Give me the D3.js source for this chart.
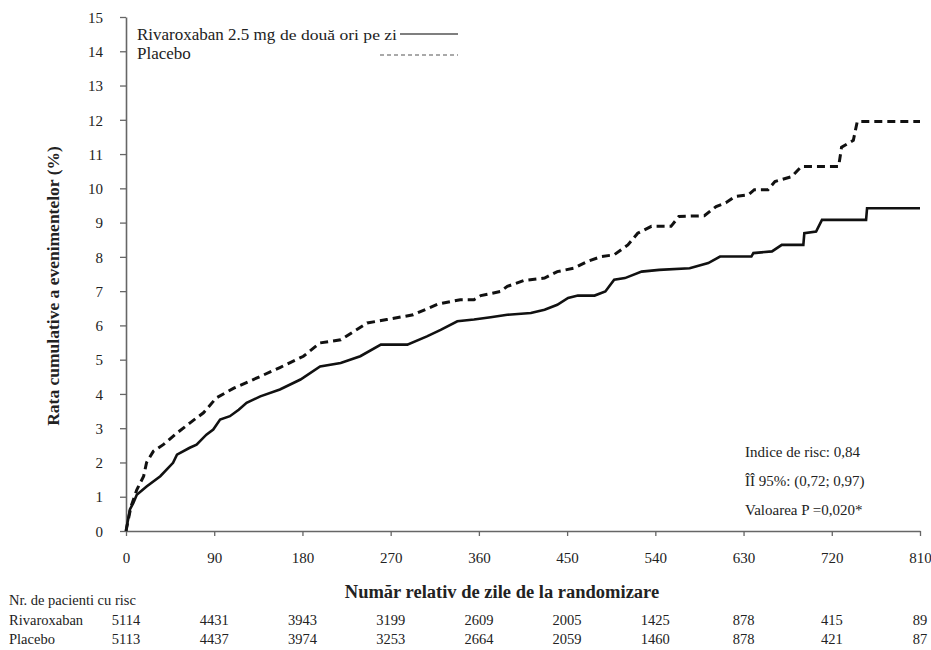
<!DOCTYPE html>
<html>
<head>
<meta charset="utf-8">
<script src="https://cdn.jsdelivr.net/npm/d3@7"></script>
<style>
  body { margin: 0; background: #fff; }
  svg text { font-family: "Liberation Serif", "DejaVu Serif", serif; }
</style>
</head>
<body>
<svg id="chart" width="931" height="650"></svg>
<script>
// days since randomisation, cumulative event rate (%)
const rivaDays = [0, 4, 7.5, 11, 21, 35, 48, 52, 65, 72, 82, 89, 96, 106, 115, 123, 137, 157, 178, 198, 219, 239, 260, 287, 307, 321, 338, 355, 372, 389, 413, 427, 440, 451, 461, 478, 489, 498, 509, 526, 544, 575, 594, 606, 638, 640, 659, 669, 691, 692, 704, 710, 755, 756, 810];
const rivaRate = [0, 0.63, 0.82, 1.06, 1.3, 1.6, 1.99, 2.23, 2.43, 2.52, 2.81, 2.96, 3.25, 3.35, 3.54, 3.74, 3.93, 4.13, 4.42, 4.8, 4.9, 5.1, 5.44, 5.44, 5.68, 5.87, 6.12, 6.17, 6.24, 6.31, 6.36, 6.46, 6.6, 6.8, 6.87, 6.87, 6.99, 7.33, 7.38, 7.57, 7.62, 7.67, 7.82, 8.01, 8.01, 8.11, 8.16, 8.35, 8.35, 8.69, 8.74, 9.08, 9.08, 9.42, 9.42];

const placDays = [0, 5, 11, 18, 21, 28, 38, 52, 65, 79, 92, 110, 137, 157, 181, 198, 219, 246, 266, 293, 318, 341, 355, 362, 382, 389, 406, 427, 440, 457, 471, 485, 498, 512, 522, 536, 556, 564, 590, 602, 612, 621, 635, 641, 655, 662, 679, 689, 727, 730, 742, 746, 810];
const placRate = [0, 0.7, 1.2, 1.6, 2.0, 2.33, 2.52, 2.86, 3.15, 3.45, 3.88, 4.17, 4.51, 4.77, 5.1, 5.49, 5.58, 6.07, 6.17, 6.31, 6.62, 6.75, 6.75, 6.87, 6.99, 7.14, 7.31, 7.38, 7.57, 7.67, 7.87, 8.01, 8.06, 8.35, 8.69, 8.89, 8.89, 9.18, 9.2, 9.47, 9.58, 9.76, 9.81, 9.96, 9.96, 10.2, 10.34, 10.64, 10.64, 11.2, 11.4, 11.95, 11.95];

const xTicks = [0, 90, 180, 270, 360, 450, 540, 630, 720, 810];
const yTicks = d3.range(0, 16);

const atRiskRiva = [5114, 4431, 3943, 3199, 2609, 2005, 1425, 878, 415, 89];
const atRiskPlac = [5113, 4437, 3974, 3253, 2664, 2059, 1460, 878, 421, 87];

const statLines = ["Indice de risc: 0,84", "ÎÎ 95%: (0,72; 0,97)", "Valoarea P =0,020*"];

const svg = d3.select("#chart");
const axisColor = "#666";
const ink = "#222";

const x = d3.scaleLinear().domain([0, 810]).range([126, 920]);
const y = d3.scaleLinear().domain([0, 15]).range([531, 17]);

// axes
const gx = svg.append("g").attr("transform", `translate(0,${y(0)})`)
  .call(d3.axisBottom(x).tickValues(xTicks).tickSize(5).tickPadding(16).tickSizeOuter(0));
const gy = svg.append("g").attr("transform", `translate(${x(0)},0)`)
  .call(d3.axisLeft(y).tickValues(yTicks).tickSize(6).tickPadding(17).tickSizeOuter(0));

[gx, gy].forEach(g => {
  g.select(".domain").attr("stroke", axisColor).attr("stroke-width", 1.6);
  g.selectAll(".tick line").attr("stroke", axisColor).attr("stroke-width", 1.3);
  g.selectAll(".tick text").attr("fill", ink).style("font-size", "15px");
});
gy.selectAll(".tick text").attr("dy", "0.35em");

// curves
const line = d3.line().x(d => x(d[0])).y(d => y(d[1])).curve(d3.curveLinear);

svg.append("path")
  .datum(d3.zip(placDays, placRate))
  .attr("d", line)
  .attr("fill", "none")
  .attr("stroke", "#111")
  .attr("stroke-width", 3)
  .attr("stroke-dasharray", "8,5");

svg.append("path")
  .datum(d3.zip(rivaDays, rivaRate))
  .attr("d", line)
  .attr("fill", "none")
  .attr("stroke", "#111")
  .attr("stroke-width", 2.6);

// legend
svg.append("text").attr("x", 137).attr("y", 40).attr("fill", ink)
  .style("font-size", "17px").text("Rivaroxaban 2.5 mg");
svg.append("text").attr("x", 280).attr("y", 40).attr("fill", ink)
  .attr("textLength", 117).attr("lengthAdjust", "spacingAndGlyphs")
  .style("font-size", "14px").text("de două ori pe zi");
svg.append("line").attr("x1", 400).attr("x2", 458).attr("y1", 34).attr("y2", 34)
  .attr("stroke", "#555").attr("stroke-width", 1.6);

svg.append("text").attr("x", 137).attr("y", 59).attr("fill", ink)
  .style("font-size", "17px").text("Placebo");
svg.append("line").attr("x1", 380).attr("x2", 458).attr("y1", 55).attr("y2", 55)
  .attr("stroke", "#555").attr("stroke-width", 1.2).attr("stroke-dasharray", "4,3");

// stats
svg.append("g").selectAll("text").data(statLines).join("text")
  .attr("x", 745)
  .attr("y", (d, i) => 457 + i * 29)
  .attr("fill", ink)
  .style("font-size", "15px")
  .text(d => d);

// axis titles
svg.append("text")
  .attr("transform", `translate(59,${(y(0) + y(15)) / 2 + 12}) rotate(-90)`)
  .attr("text-anchor", "middle")
  .attr("fill", ink)
  .style("font-size", "17.5px")
  .style("font-weight", "bold")
  .text("Rata cumulative a evenimentelor (%)");

svg.append("text")
  .attr("x", 502).attr("y", 598)
  .attr("text-anchor", "middle")
  .attr("fill", ink)
  .style("font-size", "18.5px")
  .style("font-weight", "bold")
  .text("Număr relativ de zile de la randomizare");

// numbers at risk
svg.append("text").attr("x", 9).attr("y", 605).attr("fill", ink)
  .style("font-size", "14.5px").text("Nr. de pacienti cu risc");

const rows = [["Rivaroxaban", atRiskRiva, 625], ["Placebo", atRiskPlac, 644]];
rows.forEach(([name, vals, yy]) => {
  svg.append("text").attr("x", 9).attr("y", yy).attr("fill", ink)
    .style("font-size", "14.5px").text(name);
  svg.append("g").selectAll("text").data(vals).join("text")
    .attr("x", (d, i) => x(xTicks[i]))
    .attr("y", yy)
    .attr("text-anchor", "middle")
    .attr("fill", ink)
    .style("font-size", "14.5px")
    .text(d => d);
});
</script>
</body>
</html>
